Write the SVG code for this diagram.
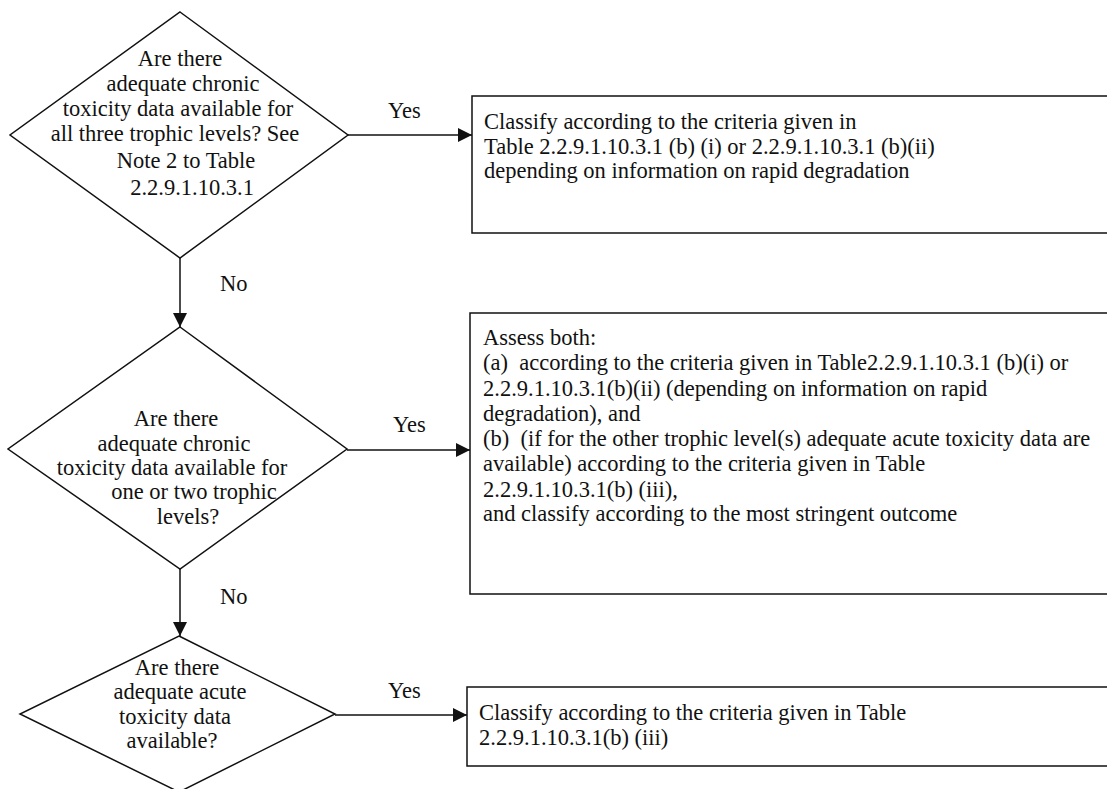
<svg xmlns="http://www.w3.org/2000/svg" width="1107" height="789" viewBox="0 0 1107 789">
<style>
.t { font-family: "Liberation Serif", "Times New Roman", serif; font-size: 22.5px; fill: #111; white-space: pre; }
.m { text-anchor: middle; }
.shape { fill: #fff; stroke: #111; stroke-width: 1.5; }
.conn { stroke: #111; stroke-width: 1.5; fill: none; }
</style>
<defs>
<marker id="arr" markerUnits="userSpaceOnUse" markerWidth="14" markerHeight="14" refX="14" refY="7" orient="auto">
<path d="M0,0 L14,7 L0,14 z" fill="#111"/>
</marker>
</defs>
<rect width="1107" height="789" fill="#fff"/>

<g id="q1">
<polygon class="shape" points="180,12 348,135 180,258 10,135"/>
<text class="t m" x="180" y="66">Are there</text>
<text class="t m" x="183" y="91">adequate chronic</text>
<text class="t m" x="178" y="116">toxicity data available for</text>
<text class="t m" x="175" y="141">all three trophic levels? See</text>
<text class="t m" x="186" y="168">Note 2 to Table</text>
<text class="t m" x="192" y="195">2.2.9.1.10.3.1</text>
</g>

<g id="r1">
<path class="shape" d="M1107,96 H472 V233 H1107"/>
<text class="t" x="484" y="129">Classify according to the criteria given in</text>
<text class="t" x="484" y="154">Table 2.2.9.1.10.3.1 (b) (i) or 2.2.9.1.10.3.1 (b)(ii)</text>
<text class="t" x="484" y="178">depending on information on rapid degradation</text>
</g>

<g id="q2">
<polygon class="shape" points="180,327 347,449 180,569 8,449"/>
<text class="t m" x="176" y="426">Are there</text>
<text class="t m" x="174" y="451">adequate chronic</text>
<text class="t m" x="172" y="475">toxicity data available for</text>
<text class="t m" x="194" y="499">one or two trophic</text>
<text class="t m" x="188" y="524">levels?</text>
</g>

<g id="r2">
<path class="shape" d="M1107,313 H470 V594 H1107"/>
<text class="t" x="483" y="345">Assess both:</text>
<text class="t" x="483" y="370">(a)  according to the criteria given in Table2.2.9.1.10.3.1 (b)(i) or</text>
<text class="t" x="483" y="396">2.2.9.1.10.3.1(b)(ii) (depending on information on rapid</text>
<text class="t" x="483" y="421">degradation), and</text>
<text class="t" x="483" y="446">(b)  (if for the other trophic level(s) adequate acute toxicity data are</text>
<text class="t" x="483" y="471">available) according to the criteria given in Table</text>
<text class="t" x="483" y="497">2.2.9.1.10.3.1(b) (iii),</text>
<text class="t" x="483" y="521">and classify according to the most stringent outcome</text>
</g>

<g id="q3">
<polygon class="shape" points="179,636 335,714 179,792 20,714"/>
<text class="t m" x="177" y="675">Are there</text>
<text class="t m" x="180" y="699">adequate acute</text>
<text class="t m" x="175" y="724">toxicity data</text>
<text class="t m" x="172" y="748">available?</text>
</g>

<g id="r3">
<path class="shape" d="M1107,687 H467 V766 H1107"/>
<text class="t" x="479" y="720">Classify according to the criteria given in Table</text>
<text class="t" x="479" y="745">2.2.9.1.10.3.1(b) (iii)</text>
</g>

<g id="connectors">
<path class="conn" d="M348,135 H472" marker-end="url(#arr)"/>
<path class="conn" d="M180,258 V327" marker-end="url(#arr)"/>
<path class="conn" d="M347,450 H470" marker-end="url(#arr)"/>
<path class="conn" d="M180,569 V636" marker-end="url(#arr)"/>
<path class="conn" d="M335,715 H467" marker-end="url(#arr)"/>
<text class="t" x="388" y="118">Yes</text>
<text class="t" x="220" y="291">No</text>
<text class="t" x="393" y="432">Yes</text>
<text class="t" x="220" y="604">No</text>
<text class="t" x="388" y="698">Yes</text>
</g>
</svg>
